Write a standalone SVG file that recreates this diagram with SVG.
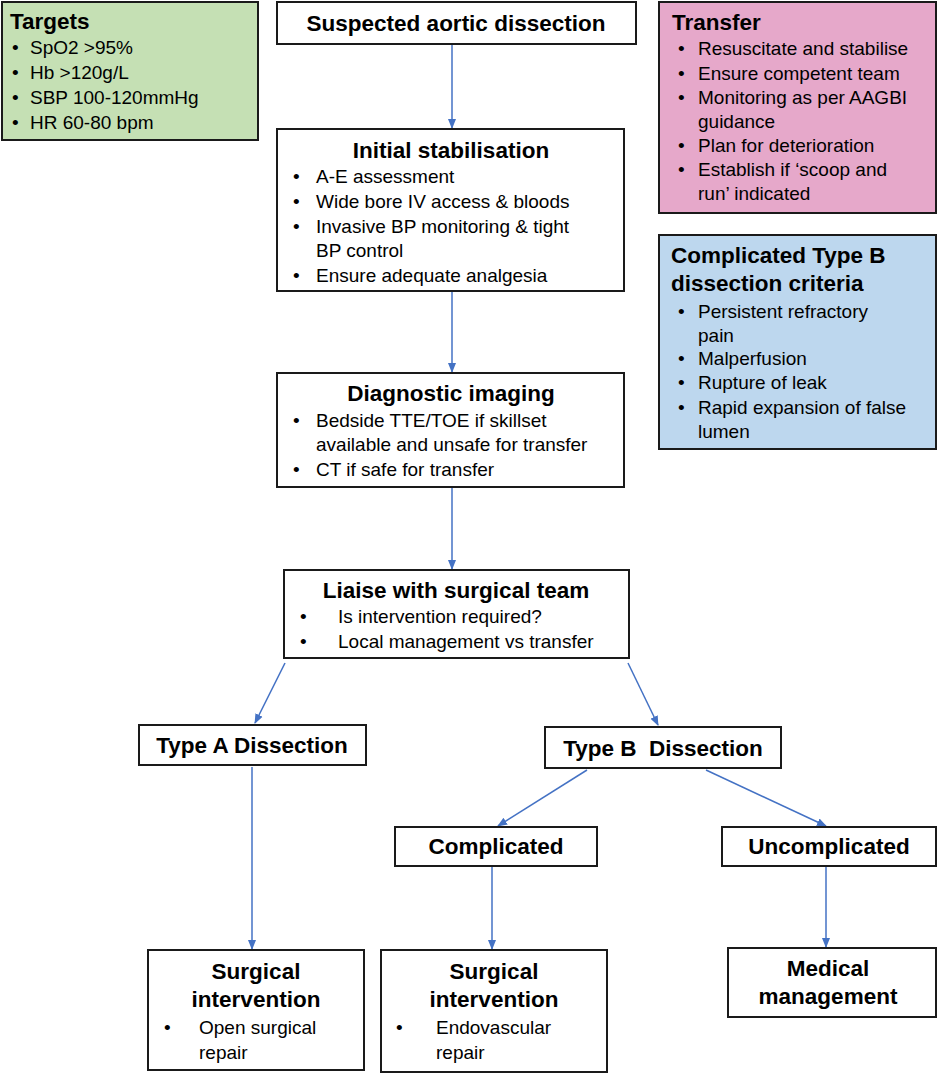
<svg xmlns="http://www.w3.org/2000/svg" width="938" height="1080" viewBox="0 0 938 1080">
<style>
rect{stroke:#1a1a1a;stroke-width:2;fill:#fff}
text{font-family:"Liberation Sans",Arial,sans-serif;fill:#000}
.t{font-weight:bold;font-size:22.5px}
.b{font-size:19px}
.c{stroke:#4472c4;stroke-width:1.5;fill:none;marker-end:url(#a)}
</style>
<defs><marker id="a" markerWidth="10" markerHeight="10" refX="9" refY="5" orient="auto" markerUnits="userSpaceOnUse"><path d="M0,1 L10,5 L0,9 z" fill="#4472c4"/></marker></defs>
<g id="connectors">
<line class="c" x1="452" y1="44" x2="452" y2="128"/>
<line class="c" x1="452" y1="291" x2="452" y2="372"/>
<line class="c" x1="452" y1="487" x2="452" y2="569"/>
<line class="c" x1="285" y1="663" x2="255" y2="723"/>
<line class="c" x1="628" y1="663" x2="658" y2="725"/>
<line class="c" x1="587" y1="770" x2="498" y2="826"/>
<line class="c" x1="706" y1="770" x2="826" y2="826"/>
<line class="c" x1="252" y1="767" x2="252" y2="949"/>
<line class="c" x1="492" y1="867" x2="492" y2="949"/>
<line class="c" x1="826" y1="867" x2="826" y2="947"/>
</g>
<g id="targets"><rect x="2" y="2" width="256" height="138" style="fill:#c5e0b4"/>
<text class="t" x="10" y="29">Targets</text>
<text class="b" x="12" y="54">•</text><text class="b" x="30" y="54">SpO2 &gt;95%</text>
<text class="b" x="12" y="79">•</text><text class="b" x="30" y="79">Hb &gt;120g/L</text>
<text class="b" x="12" y="104">•</text><text class="b" x="30" y="104">SBP 100-120mmHg</text>
<text class="b" x="12" y="129">•</text><text class="b" x="30" y="129">HR 60-80 bpm</text></g>
<g id="suspected"><rect x="277" y="2" width="359" height="42"/>
<text class="t" x="456" y="31" text-anchor="middle">Suspected aortic dissection</text></g>
<g id="transfer"><rect x="659" y="2" width="277" height="211" style="fill:#e6a8ca"/>
<text class="t" x="672" y="30">Transfer</text>
<text class="b" x="678" y="55">•</text><text class="b" x="698" y="55">Resuscitate and stabilise</text>
<text class="b" x="678" y="80">•</text><text class="b" x="698" y="80">Ensure competent team</text>
<text class="b" x="678" y="104">•</text><text class="b" x="698" y="104">Monitoring as per AAGBI</text>
<text class="b" x="698" y="128">guidance</text>
<text class="b" x="678" y="152">•</text><text class="b" x="698" y="152">Plan for deterioration</text>
<text class="b" x="678" y="176">•</text><text class="b" x="698" y="176">Establish if ‘scoop and</text>
<text class="b" x="698" y="200">run’ indicated</text></g>
<g id="initial"><rect x="277" y="129" width="347" height="162"/>
<text class="t" x="451" y="158" text-anchor="middle">Initial stabilisation</text>
<text class="b" x="293" y="183">•</text><text class="b" x="316" y="183">A-E assessment</text>
<text class="b" x="293" y="208">•</text><text class="b" x="316" y="208">Wide bore IV access &amp; bloods</text>
<text class="b" x="293" y="233">•</text><text class="b" x="316" y="233">Invasive BP monitoring &amp; tight</text>
<text class="b" x="316" y="257">BP control</text>
<text class="b" x="293" y="282">•</text><text class="b" x="316" y="282">Ensure adequate analgesia</text></g>
<g id="complicatedB"><rect x="659" y="235" width="277" height="214" style="fill:#bdd7ee"/>
<text class="t" x="671" y="263">Complicated Type B</text>
<text class="t" x="671" y="291">dissection criteria</text>
<text class="b" x="678" y="318">•</text><text class="b" x="698" y="318">Persistent refractory</text>
<text class="b" x="698" y="342">pain</text>
<text class="b" x="678" y="365">•</text><text class="b" x="698" y="365">Malperfusion</text>
<text class="b" x="678" y="389">•</text><text class="b" x="698" y="389">Rupture of leak</text>
<text class="b" x="678" y="414">•</text><text class="b" x="698" y="414">Rapid expansion of false</text>
<text class="b" x="698" y="438">lumen</text></g>
<g id="imaging"><rect x="277" y="373" width="347" height="114"/>
<text class="t" x="451" y="401" text-anchor="middle">Diagnostic imaging</text>
<text class="b" x="293" y="427">•</text><text class="b" x="316" y="427">Bedside TTE/TOE if skillset</text>
<text class="b" x="316" y="451">available and unsafe for transfer</text>
<text class="b" x="293" y="476">•</text><text class="b" x="316" y="476">CT if safe for transfer</text></g>
<g id="liaise"><rect x="284" y="570" width="345" height="88"/>
<text class="t" x="456" y="598" text-anchor="middle">Liaise with surgical team</text>
<text class="b" x="300" y="623">•</text><text class="b" x="338" y="623">Is intervention required?</text>
<text class="b" x="300" y="648">•</text><text class="b" x="338" y="648">Local management vs transfer</text></g>
<g id="typeA"><rect x="139" y="725" width="227" height="40"/>
<text class="t" x="252" y="753" text-anchor="middle">Type A Dissection</text></g>
<g id="typeB"><rect x="545" y="727" width="236" height="41"/>
<text class="t" x="663" y="756" text-anchor="middle" xml:space="preserve">Type B  Dissection</text></g>
<g id="complicated"><rect x="395" y="827" width="202" height="39"/>
<text class="t" x="496" y="854" text-anchor="middle">Complicated</text></g>
<g id="uncomplicated"><rect x="722" y="827" width="214" height="39"/>
<text class="t" x="829" y="854" text-anchor="middle">Uncomplicated</text></g>
<g id="surgA"><rect x="148" y="950" width="216" height="120"/>
<text class="t" x="256" y="979" text-anchor="middle">Surgical</text>
<text class="t" x="256" y="1007" text-anchor="middle">intervention</text>
<text class="b" x="164" y="1034">•</text><text class="b" x="199" y="1034">Open surgical</text>
<text class="b" x="199" y="1059">repair</text></g>
<g id="surgB"><rect x="381" y="950" width="226" height="122"/>
<text class="t" x="494" y="979" text-anchor="middle">Surgical</text>
<text class="t" x="494" y="1007" text-anchor="middle">intervention</text>
<text class="b" x="396" y="1034">•</text><text class="b" x="436" y="1034">Endovascular</text>
<text class="b" x="436" y="1059">repair</text></g>
<g id="medical"><rect x="728" y="948" width="208" height="69"/>
<text class="t" x="828" y="976" text-anchor="middle">Medical</text>
<text class="t" x="828" y="1004" text-anchor="middle">management</text></g>
</svg>
